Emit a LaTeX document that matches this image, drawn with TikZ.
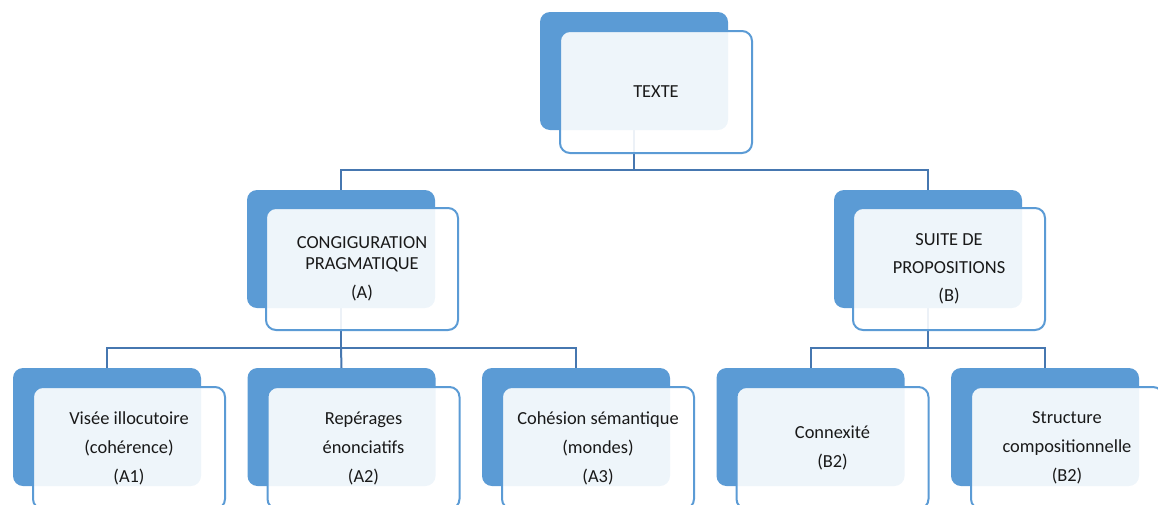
\documentclass[tikz,border=0pt]{standalone}
\usepackage{fontspec}
\setmainfont{Carlito}
\usetikzlibrary{backgrounds}
\definecolor{boxblue}{HTML}{5B9BD5}
\definecolor{linkblue}{HTML}{4677B0}
\tikzset{
  backbox/.style={fill=boxblue, draw=none, rounded corners=10pt, minimum width=188pt, minimum height=118pt, inner sep=0pt, outer sep=0pt, anchor=north west},
  frontbox/.style={fill=white, fill opacity=0.9, text opacity=1, draw=boxblue, line width=2pt, rounded corners=10pt, minimum width=192pt, minimum height=122pt, inner sep=0pt, outer sep=0pt, anchor=north west, align=center, font=\fontsize{18.4}{21}\selectfont, text=black!90},
  link/.style={draw=linkblue, line width=2pt}
}
\begin{document}
\begin{tikzpicture}[x=1pt,y=-1pt]
\useasboundingbox (0,0) rectangle (1158,504);
\clip (0,0) rectangle (1158,504);
\coordinate (bus0) at (0,170);
\coordinate (bus1) at (0,347.5);
% back boxes
\node[backbox] (tb) at (540,12) {};
\node[backbox] (ab) at (247,190) {};
\node[backbox] (bb) at (834,190) {};
\node[backbox] (a1b) at (13,368) {};
\node[backbox] (a2b) at (247.5,368) {};
\node[backbox] (a3b) at (482,368) {};
\node[backbox] (b1b) at (716.5,368) {};
\node[backbox] (b2b) at (951,368) {};
% connectors behind the boxes
\begin{scope}[on background layer]
\draw[link] (tb.south) -- (tb.south |- bus0) -| (ab.north);
\draw[link] (tb.south |- bus0) -| (bb.north);
\draw[link] (ab.south) -- (ab.south |- bus1) -| (a1b.north);
\draw[link] (ab.south |- bus1) -| (a3b.north);
\draw[link] (ab.south |- bus1) -- (a2b.north);
\draw[link] (bb.south) -- (bb.south |- bus1) -| (b1b.north);
\draw[link] (bb.south |- bus1) -| (b2b.north);
\end{scope}
% front boxes
\node[frontbox] (tf) at (560,31) {TEXTE};
\node[frontbox] (af) at (266,208) {CONGIGURATION\\PRAGMATIQUE\\[8pt](A)};
\node[frontbox] (bf) at (853,208) {SUITE DE\\[7pt]PROPOSITIONS\\[7pt](B)};
\node[frontbox] (a1f) at (33,387) {Visée illocutoire\\[8pt](cohérence)\\[8pt](A1)};
\node[frontbox] (a2f) at (267.5,387) {Repérages\\[8pt]énonciatifs\\[8pt](A2)};
\node[frontbox] (a3f) at (502,387) {Cohésion sémantique\\[8pt](mondes)\\[8pt](A3)};
\node[frontbox] (b1f) at (736.5,387) {Connexité\\[8pt](B2)};
\node[frontbox] (b2f) at (971,387) {Structure\\[8pt]compositionnelle\\[8pt](B2)};
\end{tikzpicture}
\end{document}
